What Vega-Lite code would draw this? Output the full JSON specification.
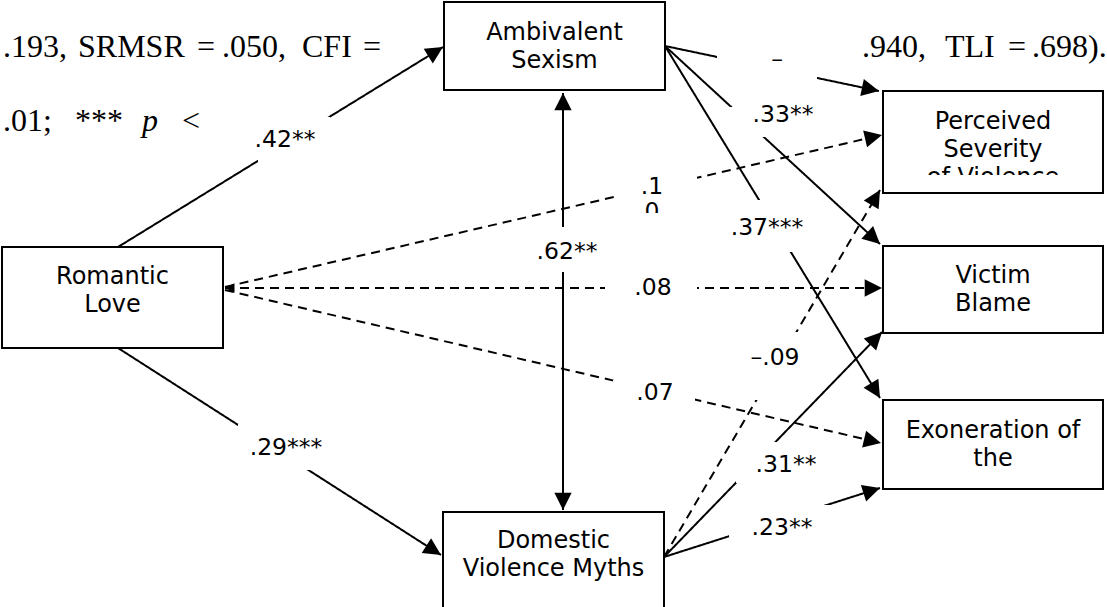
{
  "$schema": "https://vega.github.io/schema/vega-lite/v6.json",
  "width": 1107,
  "height": 607,
  "autosize": {"type": "none"},
  "padding": 0,
  "background": "white",
  "config": {"view": {"stroke": null}},
  "datasets": {
    "nodes": [
      {"id": "RL", "label": "Romantic\nLove", "x1": 2, "x2": 223, "y1": 247, "y2": 348, "tx": 112.5, "ty": 277},
      {"id": "AS", "label": "Ambivalent\nSexism", "x1": 444, "x2": 665, "y1": 2, "y2": 90, "tx": 554.5, "ty": 33},
      {"id": "PS", "label": "Perceived\nSeverity\nof Violence", "x1": 883, "x2": 1103, "y1": 91, "y2": 193, "tx": 993, "ty": 122},
      {"id": "VB", "label": "Victim\nBlame", "x1": 883, "x2": 1103, "y1": 246, "y2": 333, "tx": 993, "ty": 276},
      {"id": "EX", "label": "Exoneration of\nthe", "x1": 883, "x2": 1103, "y1": 400, "y2": 489, "tx": 993, "ty": 431},
      {"id": "DVM", "label": "Domestic\nViolence Myths", "x1": 443, "x2": 664, "y1": 512, "y2": 613, "tx": 553.5, "ty": 541}
    ],
    "edges": [
      {"from": "RL", "to": "AS", "x1": 118, "y1": 247, "x2": 443, "y2": 47, "style": "solid", "startHead": "none"},
      {"from": "RL", "to": "DVM", "x1": 118, "y1": 348, "x2": 441, "y2": 555, "style": "solid", "startHead": "none"},
      {"from": "AS", "to": "DVM", "x1": 563, "y1": 93, "x2": 563, "y2": 510, "style": "solid", "startHead": "big"},
      {"from": "AS", "to": "PS", "x1": 665, "y1": 46, "x2": 879, "y2": 91, "style": "solid", "startHead": "none"},
      {"from": "AS", "to": "VB", "x1": 665, "y1": 46, "x2": 880, "y2": 244, "style": "solid", "startHead": "none"},
      {"from": "AS", "to": "EX", "x1": 665, "y1": 46, "x2": 880, "y2": 398, "style": "solid", "startHead": "none"},
      {"from": "RL", "to": "PS", "x1": 225, "y1": 287, "x2": 882, "y2": 135, "style": "dashed", "startHead": "none"},
      {"from": "RL", "to": "VB", "x1": 225, "y1": 288, "x2": 882, "y2": 288, "style": "dashed", "startHead": "small"},
      {"from": "RL", "to": "EX", "x1": 225, "y1": 290, "x2": 881, "y2": 443, "style": "dashed", "startHead": "none"},
      {"from": "DVM", "to": "PS", "x1": 664, "y1": 557, "x2": 880, "y2": 190, "style": "dashed", "startHead": "none"},
      {"from": "DVM", "to": "VB", "x1": 664, "y1": 557, "x2": 882, "y2": 332, "style": "solid", "startHead": "none"},
      {"from": "DVM", "to": "EX", "x1": 664, "y1": 557, "x2": 880, "y2": 488, "style": "solid", "startHead": "none"}
    ],
    "labels": [
      {"text": ".42**", "bx1": 258, "bx2": 330, "by1": 117, "by2": 162, "tx": 285, "ty": 140},
      {"text": ".29***", "bx1": 238, "bx2": 322, "by1": 424, "by2": 470, "tx": 286, "ty": 448},
      {"text": ".62**", "bx1": 535, "bx2": 600, "by1": 227, "by2": 272, "tx": 567, "ty": 252},
      {"text": "–", "bx1": 717, "bx2": 817, "by1": 45, "by2": 80, "tx": 777, "ty": 60},
      {"text": ".33**", "bx1": 725, "bx2": 815, "by1": 107, "by2": 137, "tx": 783, "ty": 115},
      {"text": ".37***", "bx1": 725, "bx2": 810, "by1": 200, "by2": 252, "tx": 767, "ty": 228},
      {"text": ".1\n0", "bx1": 615, "bx2": 697, "by1": 172, "by2": 213, "tx": 652, "ty": 187},
      {"text": ".08", "bx1": 605, "bx2": 697, "by1": 276, "by2": 300, "tx": 653, "ty": 288},
      {"text": ".07", "bx1": 613, "bx2": 695, "by1": 380, "by2": 410, "tx": 655, "ty": 393},
      {"text": "–.09", "bx1": 745, "bx2": 800, "by1": 332, "by2": 400, "tx": 775, "ty": 358},
      {"text": ".31**", "bx1": 736, "bx2": 820, "by1": 442, "by2": 483, "tx": 786, "ty": 465},
      {"text": ".23**", "bx1": 729, "bx2": 833, "by1": 505, "by2": 537, "tx": 782, "ty": 528}
    ],
    "caption": [
      {"text": ".193,", "x": 3, "y": 57, "role": "plain"},
      {"text": "SRMSR", "x": 78, "y": 57, "role": "plain"},
      {"text": "=", "x": 197, "y": 57, "role": "plain"},
      {"text": ".050,", "x": 222, "y": 57, "role": "plain"},
      {"text": "CFI", "x": 302, "y": 57, "role": "plain"},
      {"text": "=", "x": 363, "y": 57, "role": "plain"},
      {"text": ".01;", "x": 3, "y": 131, "role": "plain"},
      {"text": "***", "x": 75, "y": 131, "role": "plain"},
      {"text": "p", "x": 142, "y": 131, "role": "variable"},
      {"text": "<", "x": 182, "y": 131, "role": "plain"},
      {"text": ".940,", "x": 862, "y": 57, "role": "plain"},
      {"text": "TLI", "x": 945, "y": 57, "role": "plain"},
      {"text": "=", "x": 1008, "y": 57, "role": "plain"},
      {"text": ".698).", "x": 1032, "y": 57, "role": "plain"}
    ],
    "masks": [
      {"x1": 885, "x2": 1101, "y1": 175, "y2": 191},
      {"x1": 630, "x2": 675, "y1": 213, "y2": 226}
    ]
  },
  "layer": [
    {
      "data": {"name": "edges"},
      "mark": {"type": "rule", "strokeWidth": 2, "color": "black"},
      "encoding": {
        "x": {"field": "x1", "type": "quantitative", "scale": {"domain": [0, 1107], "nice": false, "zero": false}, "axis": null},
        "y": {"field": "y1", "type": "quantitative", "scale": {"domain": [0, 607], "nice": false, "zero": false, "reverse": true}, "axis": null},
        "x2": {"field": "x2"},
        "y2": {"field": "y2"},
        "strokeDash": {"field": "style", "type": "nominal", "scale": {"domain": ["solid", "dashed"], "range": [[1, 0], [9, 6]]}, "legend": null}
      }
    },
    {
      "data": {"name": "edges"},
      "transform": [{"calculate": "atan2(datum.x2 - datum.x1, datum.y1 - datum.y2) * 180 / PI", "as": "angle"}],
      "mark": {"type": "point", "shape": "M0,0L-1,2L1,2Z", "filled": true, "color": "black", "opacity": 1, "size": 300},
      "encoding": {
        "x": {"field": "x2", "type": "quantitative", "scale": {"domain": [0, 1107], "nice": false, "zero": false}, "axis": null},
        "y": {"field": "y2", "type": "quantitative", "scale": {"domain": [0, 607], "nice": false, "zero": false, "reverse": true}, "axis": null},
        "angle": {"field": "angle", "type": "quantitative", "scale": null}
      }
    },
    {
      "data": {"name": "edges"},
      "transform": [
        {"filter": "datum.startHead != 'none'"},
        {"calculate": "atan2(datum.x1 - datum.x2, datum.y2 - datum.y1) * 180 / PI", "as": "angle"}
      ],
      "mark": {"type": "point", "shape": "M0,0L-1,2L1,2Z", "filled": true, "color": "black", "opacity": 1},
      "encoding": {
        "x": {"field": "x1", "type": "quantitative", "scale": {"domain": [0, 1107], "nice": false, "zero": false}, "axis": null},
        "y": {"field": "y1", "type": "quantitative", "scale": {"domain": [0, 607], "nice": false, "zero": false, "reverse": true}, "axis": null},
        "angle": {"field": "angle", "type": "quantitative", "scale": null},
        "size": {"field": "startHead", "type": "ordinal", "scale": {"domain": ["big", "small"], "range": [300, 90]}, "legend": null}
      }
    },
    {
      "data": {"name": "labels"},
      "mark": {"type": "rect", "color": "white", "opacity": 1},
      "encoding": {
        "x": {"field": "bx1", "type": "quantitative", "scale": {"domain": [0, 1107], "nice": false, "zero": false}, "axis": null},
        "y": {"field": "by1", "type": "quantitative", "scale": {"domain": [0, 607], "nice": false, "zero": false, "reverse": true}, "axis": null},
        "x2": {"field": "bx2"},
        "y2": {"field": "by2"}
      }
    },
    {
      "data": {"name": "nodes"},
      "mark": {"type": "rect", "fill": "white", "opacity": 1, "clip": true},
      "encoding": {
        "x": {"field": "x1", "type": "quantitative", "scale": {"domain": [0, 1107], "nice": false, "zero": false}, "axis": null},
        "y": {"field": "y1", "type": "quantitative", "scale": {"domain": [0, 607], "nice": false, "zero": false, "reverse": true}, "axis": null},
        "x2": {"field": "x2"},
        "y2": {"field": "y2"}
      }
    },
    {
      "data": {"name": "nodes"},
      "mark": {"type": "text", "font": "DejaVu Sans", "fontSize": 24, "align": "center", "baseline": "middle", "lineBreak": "\n", "lineHeight": 28, "color": "black"},
      "encoding": {
        "x": {"field": "tx", "type": "quantitative", "scale": {"domain": [0, 1107], "nice": false, "zero": false}, "axis": null},
        "y": {"field": "ty", "type": "quantitative", "scale": {"domain": [0, 607], "nice": false, "zero": false, "reverse": true}, "axis": null},
        "text": {"field": "label"}
      }
    },
    {
      "data": {"name": "labels"},
      "mark": {"type": "text", "font": "DejaVu Sans", "fontSize": 23.5, "align": "center", "baseline": "middle", "lineBreak": "\n", "lineHeight": 25, "color": "black"},
      "encoding": {
        "x": {"field": "tx", "type": "quantitative", "scale": {"domain": [0, 1107], "nice": false, "zero": false}, "axis": null},
        "y": {"field": "ty", "type": "quantitative", "scale": {"domain": [0, 607], "nice": false, "zero": false, "reverse": true}, "axis": null},
        "text": {"field": "text"}
      }
    },
    {
      "data": {"name": "caption"},
      "transform": [{"filter": "datum.role == 'plain'"}],
      "mark": {"type": "text", "font": "Liberation Serif", "fontSize": 32, "align": "left", "baseline": "alphabetic", "color": "black"},
      "encoding": {
        "x": {"field": "x", "type": "quantitative", "scale": {"domain": [0, 1107], "nice": false, "zero": false}, "axis": null},
        "y": {"field": "y", "type": "quantitative", "scale": {"domain": [0, 607], "nice": false, "zero": false, "reverse": true}, "axis": null},
        "text": {"field": "text"}
      }
    },
    {
      "data": {"name": "caption"},
      "transform": [{"filter": "datum.role == 'variable'"}],
      "mark": {"type": "text", "font": "Liberation Serif", "fontSize": 32, "fontStyle": "italic", "align": "left", "baseline": "alphabetic", "color": "black"},
      "encoding": {
        "x": {"field": "x", "type": "quantitative", "scale": {"domain": [0, 1107], "nice": false, "zero": false}, "axis": null},
        "y": {"field": "y", "type": "quantitative", "scale": {"domain": [0, 607], "nice": false, "zero": false, "reverse": true}, "axis": null},
        "text": {"field": "text"}
      }
    },
    {
      "data": {"name": "masks"},
      "mark": {"type": "rect", "color": "white", "opacity": 1},
      "encoding": {
        "x": {"field": "x1", "type": "quantitative", "scale": {"domain": [0, 1107], "nice": false, "zero": false}, "axis": null},
        "y": {"field": "y1", "type": "quantitative", "scale": {"domain": [0, 607], "nice": false, "zero": false, "reverse": true}, "axis": null},
        "x2": {"field": "x2"},
        "y2": {"field": "y2"}
      }
    },
    {
      "data": {"name": "nodes"},
      "mark": {"type": "rect", "fill": null, "fillOpacity": 0, "stroke": "black", "strokeWidth": 2, "clip": true},
      "encoding": {
        "x": {"field": "x1", "type": "quantitative", "scale": {"domain": [0, 1107], "nice": false, "zero": false}, "axis": null},
        "y": {"field": "y1", "type": "quantitative", "scale": {"domain": [0, 607], "nice": false, "zero": false, "reverse": true}, "axis": null},
        "x2": {"field": "x2"},
        "y2": {"field": "y2"}
      }
    }
  ]
}
